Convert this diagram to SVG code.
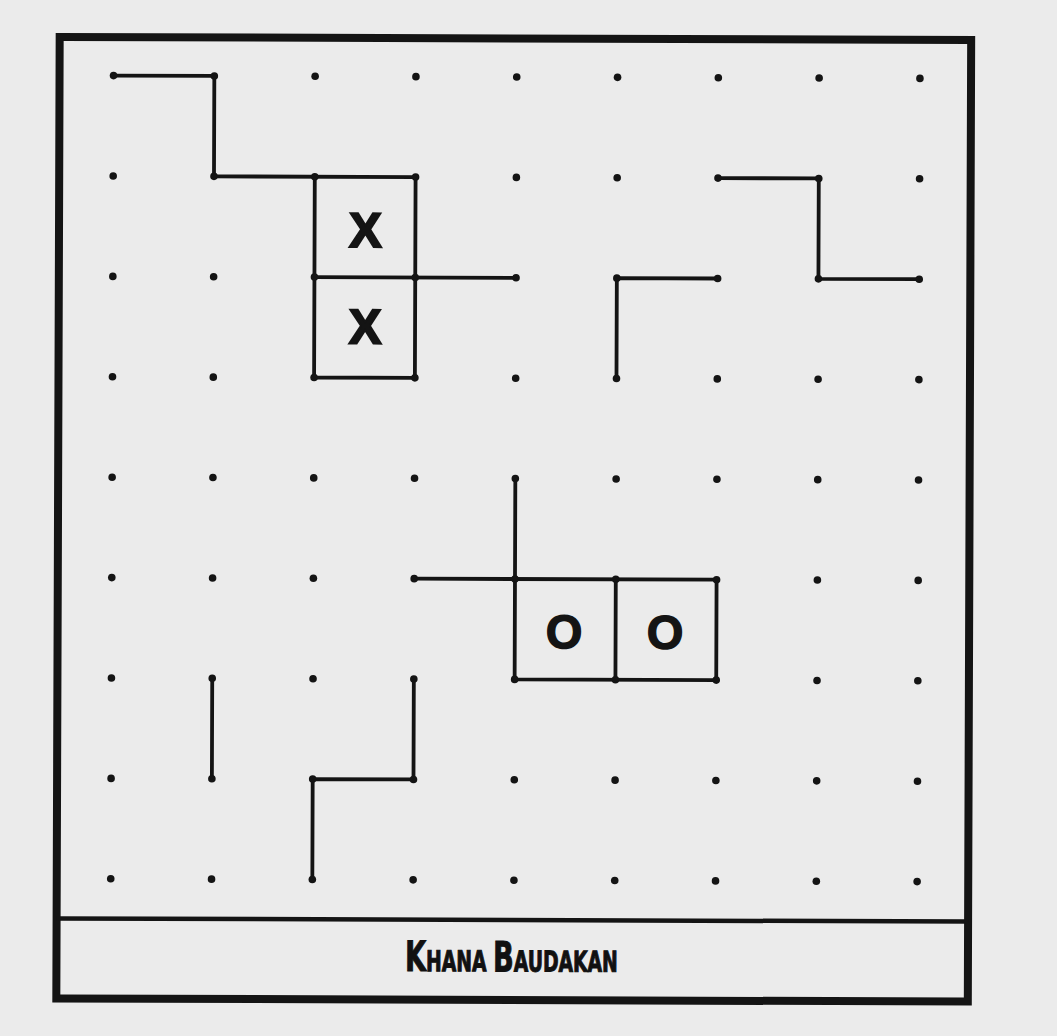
<svg xmlns="http://www.w3.org/2000/svg" xmlns:xlink="http://www.w3.org/1999/xlink" width="1057" height="1036" viewBox="0 0 1057 1036">
<style>
.ink{fill:#141414}
.ln{fill:none;stroke:#141414;stroke-width:3.8;stroke-linecap:round;stroke-linejoin:round}
.mark{font-family:'Liberation Sans',Arial,sans-serif;font-weight:bold;fill:#141414;stroke:#141414;text-anchor:middle}
.title{font-family:'Liberation Sans Narrow','DejaVu Sans Condensed','Liberation Sans',sans-serif;font-weight:bold;fill:#111;stroke:#111;stroke-width:1;text-anchor:middle}
</style>
<defs>
<circle id="d" r="3.8" class="ink"/>
</defs>
<rect x="0" y="0" width="1057" height="1036" fill="#ebebeb"/>
<g transform="rotate(0.2 514 518)">
<g id="frame">
<rect x="58" y="38.5" width="911.5" height="961.5" fill="none" stroke="#141414" stroke-width="8"/>
<line x1="58" y1="920" x2="969.5" y2="920" stroke="#141414" stroke-width="4.5"/>
</g>
<g id="connectors" class="ln">
<path d="M112,77 H212.8 V177.4 H414.4"/>
<path d="M313.6,177.4 V378.2 H414.4 V177.4"/>
<path d="M313.6,277.8 H515.2"/>
<path d="M616,378.2 V277.8 H716.8"/>
<path d="M716.8,177.4 H817.6 V277.8 H918.4"/>
<path d="M515.2,478.6 V679.4 H716.8 V579 H414.4"/>
<path d="M616,579 V679.4"/>
<path d="M212.8,679.4 V779.8"/>
<path d="M414.4,679.4 V779.8 H313.6 V880.2"/>
</g>
<g id="grid-dots">
<use href="#d" x="112" y="77"/><use href="#d" x="212.8" y="77"/><use href="#d" x="313.6" y="77"/><use href="#d" x="414.4" y="77"/><use href="#d" x="515.2" y="77"/><use href="#d" x="616" y="77"/><use href="#d" x="716.8" y="77"/><use href="#d" x="817.6" y="77"/><use href="#d" x="918.4" y="77"/>
<use href="#d" x="112" y="177.4"/><use href="#d" x="212.8" y="177.4"/><use href="#d" x="313.6" y="177.4"/><use href="#d" x="414.4" y="177.4"/><use href="#d" x="515.2" y="177.4"/><use href="#d" x="616" y="177.4"/><use href="#d" x="716.8" y="177.4"/><use href="#d" x="817.6" y="177.4"/><use href="#d" x="918.4" y="177.4"/>
<use href="#d" x="112" y="277.8"/><use href="#d" x="212.8" y="277.8"/><use href="#d" x="313.6" y="277.8"/><use href="#d" x="414.4" y="277.8"/><use href="#d" x="515.2" y="277.8"/><use href="#d" x="616" y="277.8"/><use href="#d" x="716.8" y="277.8"/><use href="#d" x="817.6" y="277.8"/><use href="#d" x="918.4" y="277.8"/>
<use href="#d" x="112" y="378.2"/><use href="#d" x="212.8" y="378.2"/><use href="#d" x="313.6" y="378.2"/><use href="#d" x="414.4" y="378.2"/><use href="#d" x="515.2" y="378.2"/><use href="#d" x="616" y="378.2"/><use href="#d" x="716.8" y="378.2"/><use href="#d" x="817.6" y="378.2"/><use href="#d" x="918.4" y="378.2"/>
<use href="#d" x="112" y="478.6"/><use href="#d" x="212.8" y="478.6"/><use href="#d" x="313.6" y="478.6"/><use href="#d" x="414.4" y="478.6"/><use href="#d" x="515.2" y="478.6"/><use href="#d" x="616" y="478.6"/><use href="#d" x="716.8" y="478.6"/><use href="#d" x="817.6" y="478.6"/><use href="#d" x="918.4" y="478.6"/>
<use href="#d" x="112" y="579"/><use href="#d" x="212.8" y="579"/><use href="#d" x="313.6" y="579"/><use href="#d" x="414.4" y="579"/><use href="#d" x="515.2" y="579"/><use href="#d" x="616" y="579"/><use href="#d" x="716.8" y="579"/><use href="#d" x="817.6" y="579"/><use href="#d" x="918.4" y="579"/>
<use href="#d" x="112" y="679.4"/><use href="#d" x="212.8" y="679.4"/><use href="#d" x="313.6" y="679.4"/><use href="#d" x="414.4" y="679.4"/><use href="#d" x="515.2" y="679.4"/><use href="#d" x="616" y="679.4"/><use href="#d" x="716.8" y="679.4"/><use href="#d" x="817.6" y="679.4"/><use href="#d" x="918.4" y="679.4"/>
<use href="#d" x="112" y="779.8"/><use href="#d" x="212.8" y="779.8"/><use href="#d" x="313.6" y="779.8"/><use href="#d" x="414.4" y="779.8"/><use href="#d" x="515.2" y="779.8"/><use href="#d" x="616" y="779.8"/><use href="#d" x="716.8" y="779.8"/><use href="#d" x="817.6" y="779.8"/><use href="#d" x="918.4" y="779.8"/>
<use href="#d" x="112" y="880.2"/><use href="#d" x="212.8" y="880.2"/><use href="#d" x="313.6" y="880.2"/><use href="#d" x="414.4" y="880.2"/><use href="#d" x="515.2" y="880.2"/><use href="#d" x="616" y="880.2"/><use href="#d" x="716.8" y="880.2"/><use href="#d" x="817.6" y="880.2"/><use href="#d" x="918.4" y="880.2"/>
</g>
<g id="cell-x1"><text class="mark" x="364.5" y="247.5" font-size="49" stroke-width="2">X</text></g>
<g id="cell-x2"><text class="mark" x="364.5" y="344" font-size="49" stroke-width="2">X</text></g>
<g id="cell-o1"><text class="mark" x="564.5" y="648" font-size="47" stroke-width="1.4">O</text></g>
<g id="cell-o2"><text class="mark" x="665.5" y="648" font-size="47" stroke-width="1.4">O</text></g>
<g id="title" transform="translate(513 971.5) scale(0.72 1)">
<text class="title" x="0" y="0"><tspan font-size="42">K</tspan><tspan font-size="29">HANA </tspan><tspan font-size="42">B</tspan><tspan font-size="29">AUDAKAN</tspan></text>
</g>
</g>
</svg>
